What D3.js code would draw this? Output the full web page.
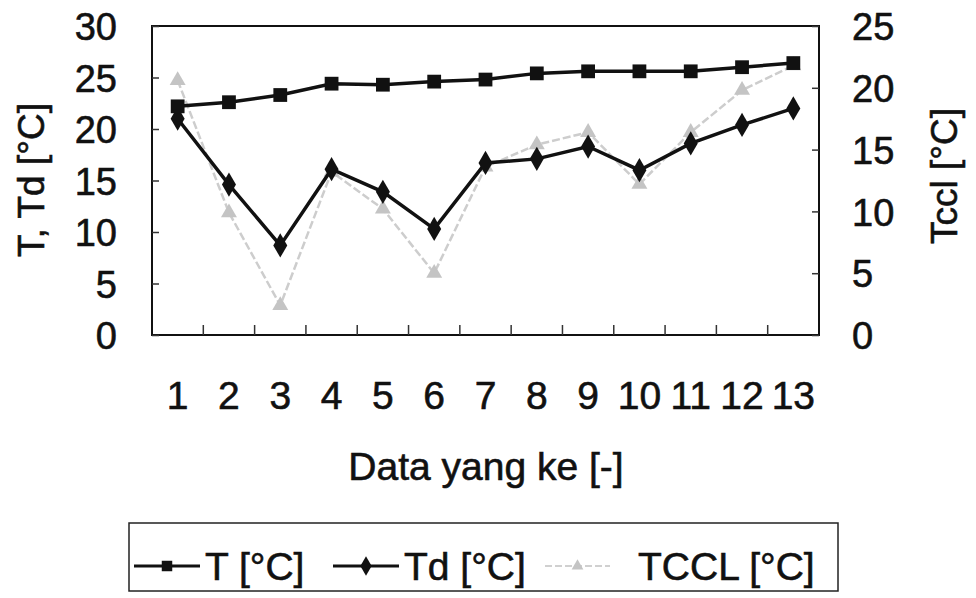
<!DOCTYPE html>
<html>
<head>
<meta charset="utf-8">
<script src="https://cdn.jsdelivr.net/npm/d3@7"></script>
<style>
  html, body { margin: 0; padding: 0; background: #fff; }
  svg { display: block; font-family: "Liberation Sans", Arial, sans-serif; }
  svg text { stroke: #111; stroke-width: 0.6px; }
</style>
</head>
<body>
<svg id="chart" width="976" height="598"></svg>
<script>
const categories = ["1","2","3","4","5","6","7","8","9","10","11","12","13"];
const T    = [22.2, 22.6, 23.3, 24.4, 24.3, 24.6, 24.8, 25.4, 25.6, 25.6, 25.6, 26.0, 26.4];
const Td   = [21.0, 14.6, 8.7, 16.1, 13.9, 10.3, 16.7, 17.1, 18.3, 16.0, 18.6, 20.4, 22.0];
const TCCL = [20.6, 9.9, 2.4, 13.2, 10.2, 5.0, 13.6, 15.4, 16.4, 12.2, 16.4, 19.8, 21.8];
const leftTicks = [0, 5, 10, 15, 20, 25, 30];
const rightTicks = [0, 5, 10, 15, 20, 25];
const seriesNames = ["T [°C]", "Td [°C]", "TCCL [°C]"];
const xTitle = "Data yang ke [-]";
const yLeftTitle = "T, Td [°C]";
const yRightTitle = "Tccl [°C]";

const svg = d3.select("#chart");
const L = 152, R = 819, TOP = 26, BOT = 335;

const x = d3.scaleBand().domain(categories).range([L, R]).padding(0);
const yL = d3.scaleLinear().domain([0, 30]).range([BOT, TOP]);
const yR = d3.scaleLinear().domain([0, 25]).range([BOT, TOP]);
const cx = c => x(c) + x.bandwidth() / 2;

// frame
svg.append("rect").attr("x", L).attr("y", TOP).attr("width", R - L).attr("height", BOT - TOP)
  .attr("fill", "none").attr("stroke", "#111").attr("stroke-width", 2);

// left axis
const gL = svg.append("g").attr("transform", `translate(${L},0)`)
  .call(d3.axisLeft(yL).tickValues(leftTicks).tickSizeInner(-7).tickSizeOuter(0).tickPadding(35));
gL.select(".domain").remove();
gL.selectAll("line").attr("stroke", "#333").attr("stroke-width", 1.5);
gL.selectAll("text").attr("font-size", 38).attr("fill", "#111").attr("dy", "0.36em");

// right axis
const gR = svg.append("g").attr("transform", `translate(${R},0)`)
  .call(d3.axisRight(yR).tickValues(rightTicks).tickSizeInner(-7).tickSizeOuter(0).tickPadding(33));
gR.select(".domain").remove();
gR.selectAll("line").attr("stroke", "#333").attr("stroke-width", 1.5);
gR.selectAll("text").attr("font-size", 38).attr("fill", "#111").attr("dy", "0.36em");

// bottom axis labels
const gB = svg.append("g").attr("transform", `translate(0,${BOT})`)
  .call(d3.axisBottom(x).tickSize(0).tickPadding(0));
gB.select(".domain").remove();
gB.selectAll("text").attr("font-size", 39).attr("fill", "#111").attr("y", 74).attr("dy", null);

// bottom inner ticks at category boundaries
svg.append("g").selectAll("line").data(categories.slice(1)).join("line")
  .attr("x1", d => x(d)).attr("x2", d => x(d))
  .attr("y1", BOT).attr("y2", BOT - 10)
  .attr("stroke", "#333").attr("stroke-width", 1.5);

// axis titles
svg.append("text").attr("x", 486).attr("y", 480).attr("text-anchor", "middle")
  .attr("font-size", 39).attr("fill", "#111").text(xTitle);
svg.append("text").attr("transform", "translate(44,180) rotate(-90)").attr("text-anchor", "middle")
  .attr("font-size", 37).attr("fill", "#111").text(yLeftTitle);
svg.append("text").attr("transform", "translate(957,176) rotate(-90)").attr("text-anchor", "middle")
  .attr("font-size", 37).attr("fill", "#111").text(yRightTitle);

// marker helpers
const sq = d3.symbol().type(d3.symbolSquare).size(190);
const dia = d3.symbol().type(d3.symbolDiamond).size(170);
const tri = d3.symbol().type(d3.symbolTriangle).size(110);

const lineR = d3.line().x((d, i) => cx(categories[i])).y(d => yR(d));
const lineL = d3.line().x((d, i) => cx(categories[i])).y(d => yL(d));

// TCCL (light)
svg.append("path").datum(TCCL).attr("d", lineR).attr("fill", "none")
  .attr("stroke", "#cdcdcd").attr("stroke-width", 2.5).attr("stroke-dasharray", "8,3");
svg.append("g").selectAll("path").data(TCCL).join("path")
  .attr("d", tri).attr("transform", (d, i) => `translate(${cx(categories[i])},${yR(d)})`)
  .attr("fill", "#c4c4c4");

// Td
svg.append("path").datum(Td).attr("d", lineL).attr("fill", "none")
  .attr("stroke", "#111").attr("stroke-width", 3.5);
svg.append("g").selectAll("path").data(Td).join("path")
  .attr("d", dia).attr("transform", (d, i) => `translate(${cx(categories[i])},${yL(d)})`)
  .attr("fill", "#111");

// T
svg.append("path").datum(T).attr("d", lineL).attr("fill", "none")
  .attr("stroke", "#111").attr("stroke-width", 3.5);
svg.append("g").selectAll("path").data(T).join("path")
  .attr("d", sq).attr("transform", (d, i) => `translate(${cx(categories[i])},${yL(d)})`)
  .attr("fill", "#111");

// legend
const lg = svg.append("g");
lg.append("rect").attr("x", 129).attr("y", 523).attr("width", 709).attr("height", 68)
  .attr("fill", "#fff").attr("stroke", "#222").attr("stroke-width", 1.5);
const legendItems = [
  { name: seriesNames[0], x0: 134, x1: 200, tx: 205, color: "#111", w: 3, sym: d3.symbol().type(d3.symbolSquare).size(110), fill: "#111", dash: null },
  { name: seriesNames[1], x0: 333, x1: 399, tx: 404, color: "#111", w: 3, sym: d3.symbol().type(d3.symbolDiamond).size(110), fill: "#111", dash: null },
  { name: seriesNames[2], x0: 545, x1: 610, tx: 638, color: "#d0d0d0", w: 2, sym: d3.symbol().type(d3.symbolTriangle).size(60), fill: "#c4c4c4", dash: "7,3" }
];
const ly = 566;
legendItems.forEach(it => {
  lg.append("line").attr("x1", it.x0).attr("x2", it.x1).attr("y1", ly).attr("y2", ly)
    .attr("stroke", it.color).attr("stroke-width", it.w).attr("stroke-dasharray", it.dash);
  lg.append("path").attr("d", it.sym).attr("transform", `translate(${(it.x0 + it.x1) / 2},${ly})`)
    .attr("fill", it.fill);
  lg.append("text").attr("x", it.tx).attr("y", ly + 14).attr("font-size", 39).attr("fill", "#111").text(it.name);
});
</script>
</body>
</html>
